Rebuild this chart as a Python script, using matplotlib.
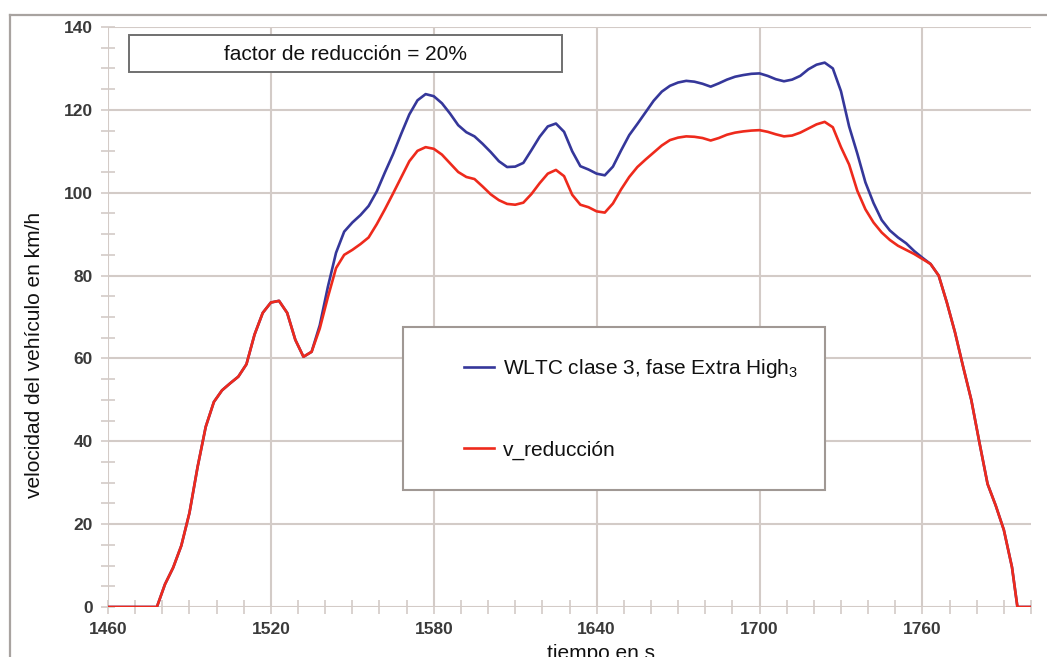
import matplotlib
matplotlib.use('Agg')
import matplotlib.pyplot as plt
from matplotlib.patches import Rectangle
from matplotlib.lines import Line2D
from matplotlib.ticker import MultipleLocator

plt.rcParams['font.family'] = ['Liberation Sans', 'DejaVu Sans']
plt.rcParams['mathtext.fontset'] = 'custom'
plt.rcParams['mathtext.rm'] = 'Liberation Sans'

# tiempo (s) y velocidades (km/h)
t = [1460, 1478, 1481, 1484, 1487, 1490, 1493, 1496, 1499, 1502, 1505,
     1508, 1511, 1514, 1517, 1520, 1523, 1526, 1529, 1532, 1535,
     1538, 1541, 1544, 1547, 1550, 1553, 1556, 1559, 1562, 1565,
     1568, 1571, 1574, 1577, 1580, 1583, 1586, 1589, 1592, 1595,
     1598, 1601, 1604, 1607, 1610, 1613, 1616, 1619, 1622, 1625,
     1628, 1631, 1634, 1637, 1640, 1643, 1646, 1649, 1652, 1655,
     1658, 1661, 1664, 1667, 1670, 1673, 1676, 1679, 1682, 1685,
     1688, 1691, 1694, 1697, 1700, 1703, 1706, 1709, 1712, 1715,
     1718, 1721, 1724, 1727, 1730, 1733, 1736, 1739, 1742, 1745,
     1748, 1751, 1754, 1757, 1760, 1763, 1766, 1769, 1772, 1775,
     1778, 1781, 1784, 1787, 1790, 1793, 1795, 1800]

v_wltc = [0, 0, 5.5, 9.5, 14.8, 22.7, 33.8, 43.5, 49.5, 52.3, 54.0,
          55.6, 58.6, 65.8, 71.0, 73.5, 73.9, 71.0, 64.5, 60.4, 61.6,
          68.0, 77.3, 85.5, 90.6, 92.8, 94.6, 96.8, 100.3, 104.9, 109.3,
          114.2, 118.9, 122.3, 123.8, 123.3, 121.6, 119.1, 116.3, 114.6, 113.6,
          111.8, 109.8, 107.6, 106.2, 106.3, 107.2, 110.3, 113.5, 116.0, 116.7,
          114.7, 110.0, 106.4, 105.6, 104.6, 104.2, 106.3, 110.2, 113.9, 116.6,
          119.4, 122.2, 124.4, 125.8, 126.6, 127.0, 126.8, 126.3, 125.6, 126.4,
          127.3, 128.0, 128.4, 128.7, 128.8, 128.2, 127.4, 126.9, 127.3, 128.2,
          129.8, 130.9, 131.4, 130.0, 124.5, 116.0, 109.5, 102.5, 97.5, 93.4,
          90.9, 89.2, 87.8, 85.9, 84.3, 82.8, 80.0, 73.5, 66.3, 58.0,
          50.0, 39.7, 29.7, 24.5, 18.6, 9.6, 0, 0]

v_red = [0, 0, 5.5, 9.5, 14.8, 22.7, 33.8, 43.5, 49.5, 52.3, 54.0,
         55.6, 58.6, 65.8, 71.0, 73.5, 73.9, 71.0, 64.5, 60.4, 61.6,
         67.2, 74.8, 81.8, 85.0, 86.2, 87.6, 89.2, 92.4, 96.0, 99.8,
         103.7, 107.6, 110.1, 111.0, 110.6, 109.2, 107.1, 105.0, 103.8, 103.3,
         101.5, 99.6, 98.2, 97.3, 97.1, 97.6, 99.7, 102.3, 104.6, 105.5,
         104.0, 99.5, 97.1, 96.5, 95.5, 95.2, 97.4, 100.8, 103.8, 106.2,
         108.0, 109.7, 111.4, 112.7, 113.3, 113.6, 113.5, 113.2, 112.6, 113.2,
         114.0, 114.5, 114.8, 115.0, 115.1, 114.7, 114.1, 113.6, 113.8, 114.5,
         115.5, 116.5, 117.1, 115.8, 111.0, 106.8, 100.5, 96.0, 92.8, 90.4,
         88.6, 87.2, 86.2, 85.2, 84.0, 82.8, 80.0, 73.5, 66.3, 58.0,
         50.0, 39.7, 29.7, 24.5, 18.6, 9.6, 0, 0]

x_ticks = [1460, 1520, 1580, 1640, 1700, 1760]

W, H = 1047, 657
fig = plt.figure(figsize=(W / 100, H / 100), dpi=100)
ax = fig.add_axes([108 / W, 1 - 607 / H, (1031 - 108) / W, (607 - 27) / H])

grid_c = '#d3cbc7'
ax.plot(t, v_wltc, color='#35379a', lw=1.9, solid_joinstyle='round',
        label='WLTC clase 3, fase Extra High$_\\mathregular{3}$', zorder=3)
ax.plot(t, v_red, color='#ee2a1c', lw=1.9, solid_joinstyle='round',
        label='v_reducción', zorder=4)

ax.set_xlim(1460, 1800)
ax.set_ylim(0, 140)
ax.set_xticks(x_ticks)
ax.xaxis.set_minor_locator(MultipleLocator(10))
ax.yaxis.set_major_locator(MultipleLocator(20))
ax.yaxis.set_minor_locator(MultipleLocator(5))
ax.grid(True, which='major', color=grid_c, lw=1.5)
for s in ax.spines.values():
    s.set_visible(False)
ax.tick_params(which='both', direction='inout', length=10, width=1.2, color=grid_c,
               labelsize=12.5, labelcolor='#3a3a3a', pad=6)
for lab in ax.get_xticklabels() + ax.get_yticklabels():
    lab.set_fontweight('bold')

# recuadro del factor de reducción
ax.add_patch(Rectangle(((129 - 108) / 923, (607 - 72) / 580), (562 - 129) / 923, (72 - 35) / 580,
                       transform=ax.transAxes, facecolor='white', edgecolor='#707070', lw=1.4, zorder=5))
ax.text((345 - 108) / 923, (607 - 54) / 580, 'factor de reducción = 20%', transform=ax.transAxes,
        ha='center', va='center', fontsize=15, color='#111111', zorder=6)

# leyenda
ax.add_patch(Rectangle(((403 - 108) / 923, (607 - 490) / 580), (825 - 403) / 923, (490 - 327) / 580,
                       transform=ax.transAxes, facecolor='white', edgecolor='#a09894', lw=1.5, zorder=5))
leg = ax.legend(loc='center left', bbox_to_anchor=((464 - 108) / 923, (607 - 408.5) / 580),
                frameon=False, fontsize=15, handlelength=1.45, handletextpad=0.4,
                labelspacing=2.9, borderpad=0, borderaxespad=0)
leg.set_zorder(6)
for txt in leg.get_texts():
    txt.set_color('#111111')

fig.text(35 / W, 1 - 355 / H, 'velocidad del vehículo en km/h', rotation=90,
         ha='center', va='center', fontsize=15, color='#111111')
fig.text(601 / W, -0.003, 'tiempo en s', ha='center', va='baseline', fontsize=15, color='#111111')

# marco exterior
frame_c = '#a8a3a0'
fig.add_artist(Line2D([10 / W, 1], [1 - 15 / H, 1 - 15 / H], color=frame_c, lw=1.6))
fig.add_artist(Line2D([10 / W, 10 / W], [0, 1 - 15 / H], color=frame_c, lw=1.6))

fig.savefig('out.png', dpi=100)
